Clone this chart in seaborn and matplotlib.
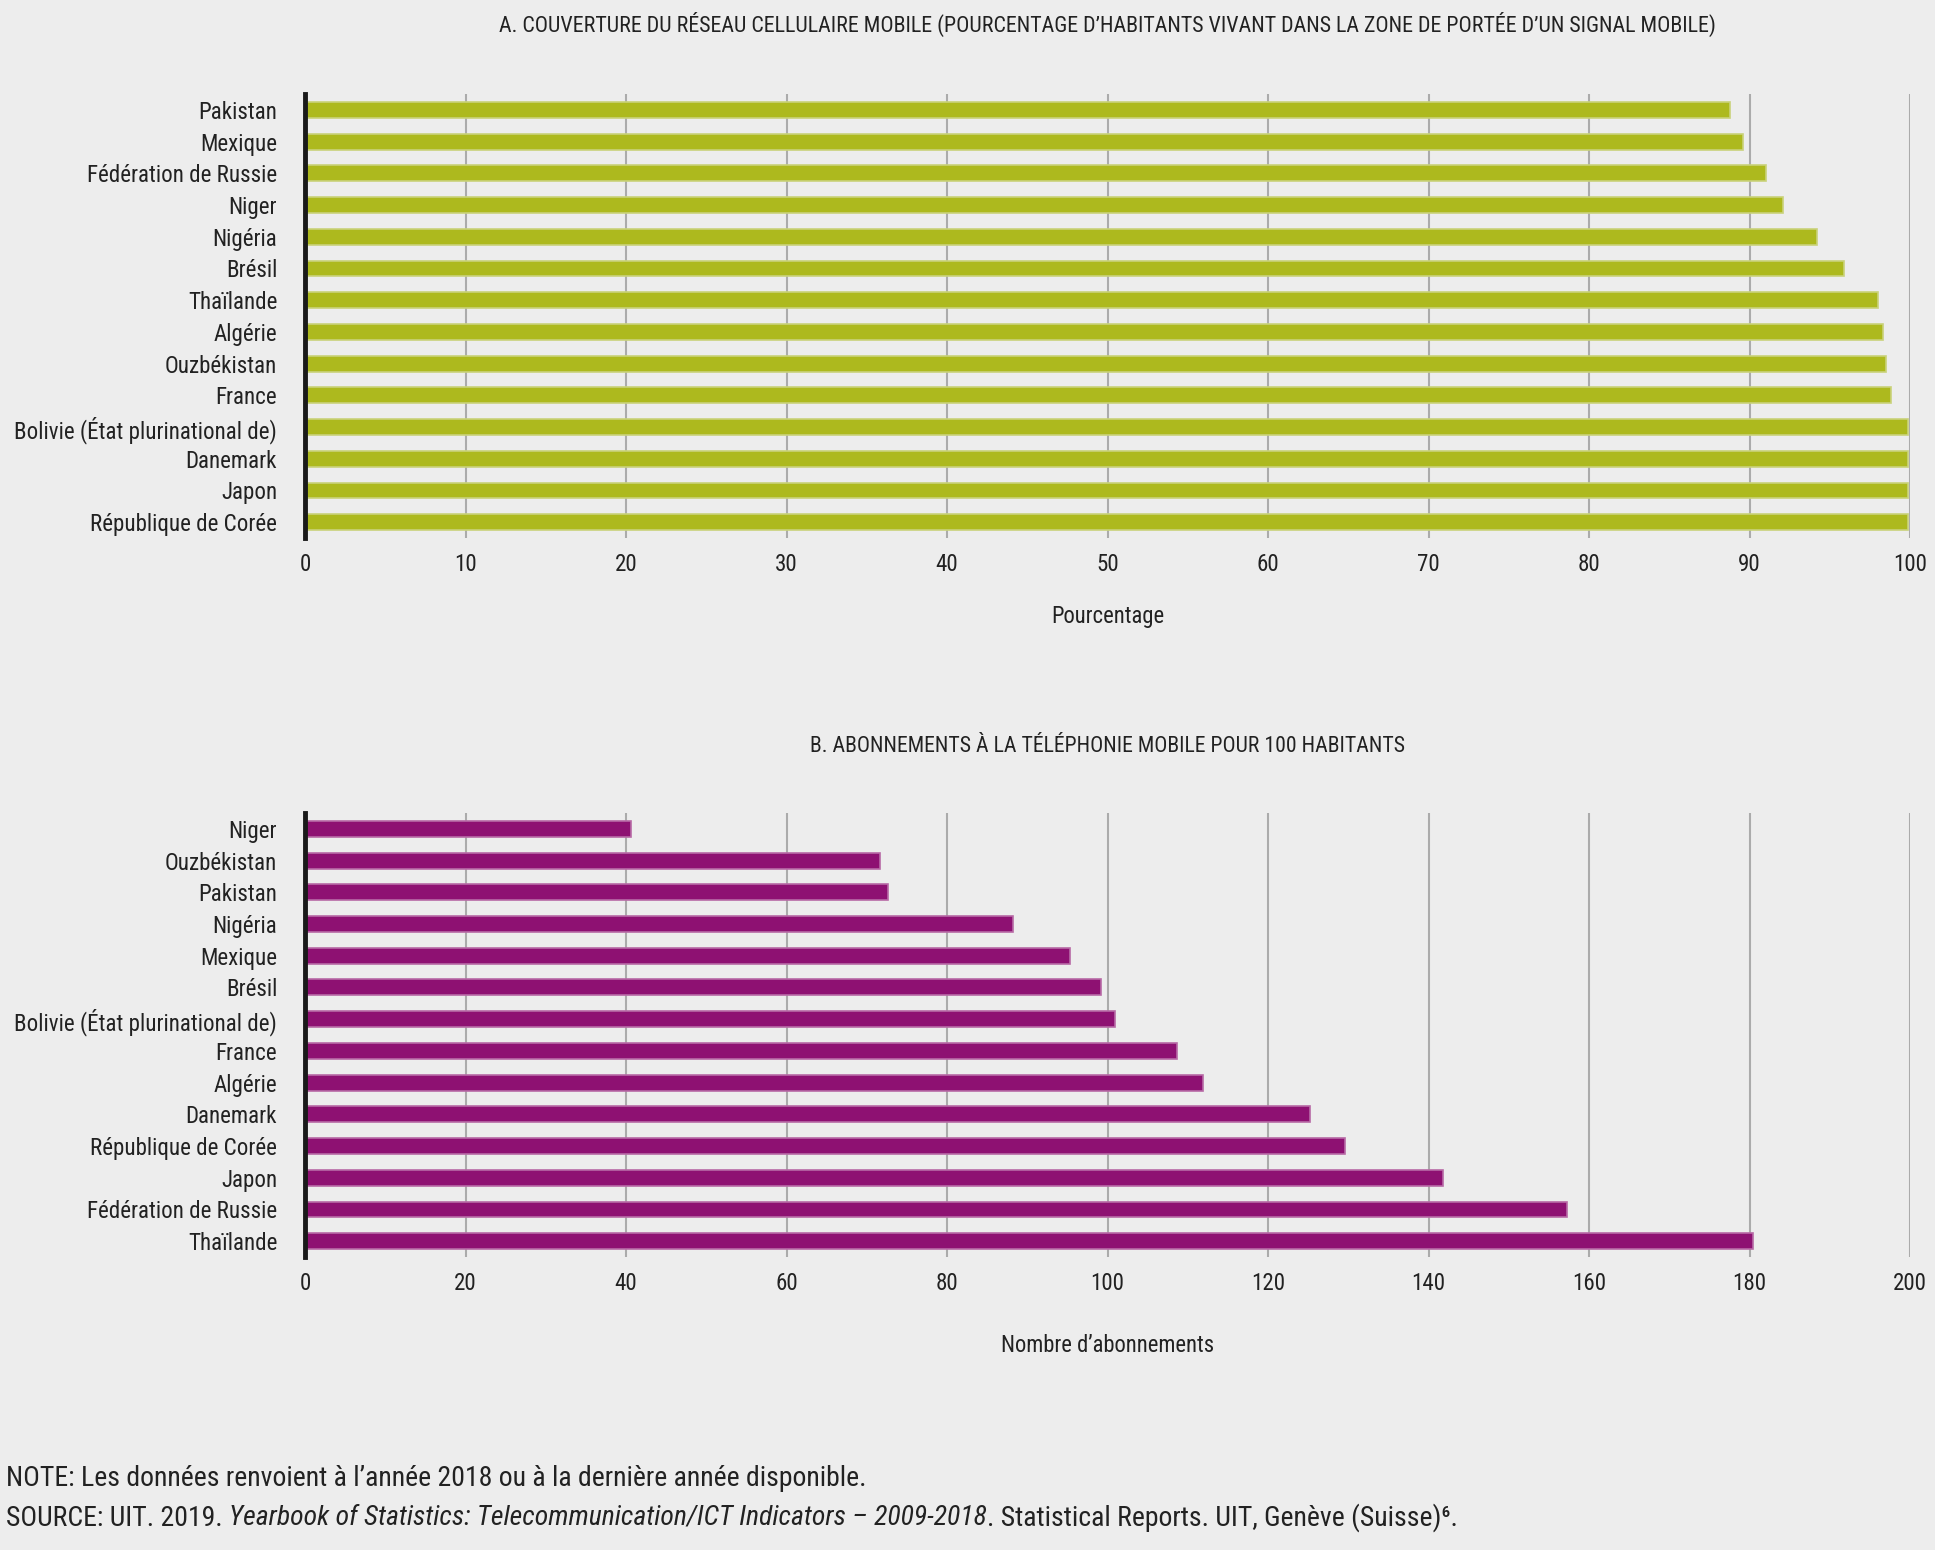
import matplotlib
matplotlib.use("Agg")
import matplotlib.pyplot as plt
from matplotlib import font_manager as fm
import seaborn as sns
import pandas as pd

# ---- data ----
countries_a = ["Pakistan", "Mexique", "Fédération de Russie", "Niger", "Nigéria", "Brésil",
               "Thaïlande", "Algérie", "Ouzbékistan", "France", "Bolivie (État plurinational de)",
               "Danemark", "Japon", "République de Corée"]
coverage_a = [88.8, 89.6, 91.0, 92.1, 94.2, 95.9, 98.0, 98.3, 98.5, 98.8, 99.9, 99.9, 99.9, 99.9]

countries_b = ["Niger", "Ouzbékistan", "Pakistan", "Nigéria", "Mexique", "Brésil",
               "Bolivie (État plurinational de)", "France", "Algérie", "Danemark",
               "République de Corée", "Japon", "Fédération de Russie", "Thaïlande"]
subs_b = [40.6, 71.6, 72.7, 88.2, 95.3, 99.2, 100.9, 108.6, 111.9, 125.2, 129.6, 141.8, 157.2, 180.4]

ticks_a = [0, 10, 20, 30, 40, 50, 60, 70, 80, 90, 100]
ticks_b = [0, 20, 40, 60, 80, 100, 120, 140, 160, 180, 200]

title_a = "A. COUVERTURE DU RÉSEAU CELLULAIRE MOBILE (POURCENTAGE D’HABITANTS VIVANT DANS LA ZONE DE PORTÉE D’UN SIGNAL MOBILE)"
title_b = "B. ABONNEMENTS À LA TÉLÉPHONIE MOBILE POUR 100 HABITANTS"
xlabel_a = "Pourcentage"
xlabel_b = "Nombre d’abonnements"
note = "NOTE: Les données renvoient à l’année 2018 ou à la dernière année disponible."
src_1 = "SOURCE: UIT. 2019. "
src_2 = "Yearbook of Statistics: Telecommunication/ICT Indicators – 2009-2018"
src_3 = ". Statistical Reports. UIT, Genève (Suisse)⁶."

BG = "#EDEDED"
GREEN = "#ADB91E"
GREEN_EDGE = "#C9D27A"
PURPLE = "#8E1172"
PURPLE_EDGE = "#B86AA6"
TXT = "#222222"
GRID = "#ABABAB"

sns.set_theme(style="white")

# choose a condensed font if one is installed
pref = ["liberationsansnarrow", "robotocondensed", "notosans-condensed", "notosanscondensed",
        "opensans-condensed", "opensanscondensed", "dejavusanscondensed"]
cond_name = None
for key in pref:
    for f in fm.fontManager.ttflist:
        fn = f.fname.lower().replace("_", "").replace(" ", "")
        if key in fn:
            cond_name = f.name
            break
    if cond_name:
        break
if cond_name is None:
    cond_name = "DejaVu Sans"
FAM = [cond_name, "DejaVu Sans"]
plt.rcParams["font.family"] = FAM
plt.rcParams["font.stretch"] = "condensed"
plt.rcParams["text.color"] = TXT

W, H = 1935, 1550
fig = plt.figure(figsize=(W / 100, H / 100), dpi=100, facecolor=BG)
fig.canvas.draw()
R = fig.canvas.get_renderer()


def fit(s, target_px, style="normal", base=20.0):
    t = fig.text(0, 0, s, fontsize=base, style=style)
    w = t.get_window_extent(renderer=R).width
    t.remove()
    return base * target_px / w


lab_size = min(fit(countries_a[10], 262), 22)
tick_size = lab_size
title_size = fit(title_a, 1220)
titleb_size = fit(title_b, 597)
xl_size = fit(xlabel_b, 213)
note_size = fit(note, 860)

left, right = 305 / W, 1910 / W
ax_a = fig.add_axes([left, 1 - 538 / H, right - left, (538 - 94) / H])
ax_b = fig.add_axes([left, 1 - 1257 / H, right - left, (1257 - 813) / H])

df_a = pd.DataFrame({"pays": countries_a, "val": coverage_a})
df_b = pd.DataFrame({"pays": countries_b, "val": subs_b})

sns.barplot(data=df_a, x="val", y="pays", orient="h", color=GREEN, width=0.5,
            edgecolor=GREEN_EDGE, linewidth=1.2, saturation=1, ax=ax_a)
sns.barplot(data=df_b, x="val", y="pays", orient="h", color=PURPLE, width=0.5,
            edgecolor=PURPLE_EDGE, linewidth=1.2, saturation=1, ax=ax_b)

for ax, ticks in [(ax_a, ticks_a), (ax_b, ticks_b)]:
    ax.set_facecolor(BG)
    ax.set_xlim(ticks[0], ticks[-1])
    ax.set_ylim(len(countries_a) - 0.5, -0.5)
    ax.set_xticks(ticks)
    ax.set_xticklabels([str(t) for t in ticks])
    ax.xaxis.grid(True, color=GRID, linewidth=1.5)
    ax.yaxis.grid(False)
    ax.set_axisbelow(True)
    for s in ["top", "right", "bottom"]:
        ax.spines[s].set_visible(False)
    ax.spines["left"].set_color("#1A1A1A")
    ax.spines["left"].set_linewidth(3.5)
    ax.spines["left"].set_zorder(5)
    ax.tick_params(axis="both", length=0, colors=TXT)
    ax.tick_params(axis="y", pad=20, labelsize=lab_size)
    ax.tick_params(axis="x", pad=11, labelsize=tick_size)
    ax.set_ylabel("")
    ax.set_xlabel("")

cx = (left + right) / 2
fig.text(cx, 1 - 24 / H, title_a, fontsize=title_size, ha="center", va="center")
fig.text(cx, 1 - 747 / H, title_b, fontsize=titleb_size, ha="center", va="center")
fig.text(cx, 1 - 617 / H, xlabel_a, fontsize=xl_size, ha="center", va="center")
fig.text(cx, 1 - 1345 / H, xlabel_b, fontsize=xl_size, ha="center", va="center")

# footer note
fig.text(6 / W, 1 - 1478 / H, note, fontsize=note_size, va="center", ha="left")
x = 6 / W
y_src = 1 - 1518 / H
for txt, style in [(src_1, "normal"), (src_2, "italic"), (src_3, "normal")]:
    t = fig.text(x, y_src, txt, fontsize=note_size, va="center", ha="left", style=style)
    bb = t.get_window_extent(renderer=R)
    x += bb.width / W

fig.savefig("out.png", dpi=100, facecolor=BG)
